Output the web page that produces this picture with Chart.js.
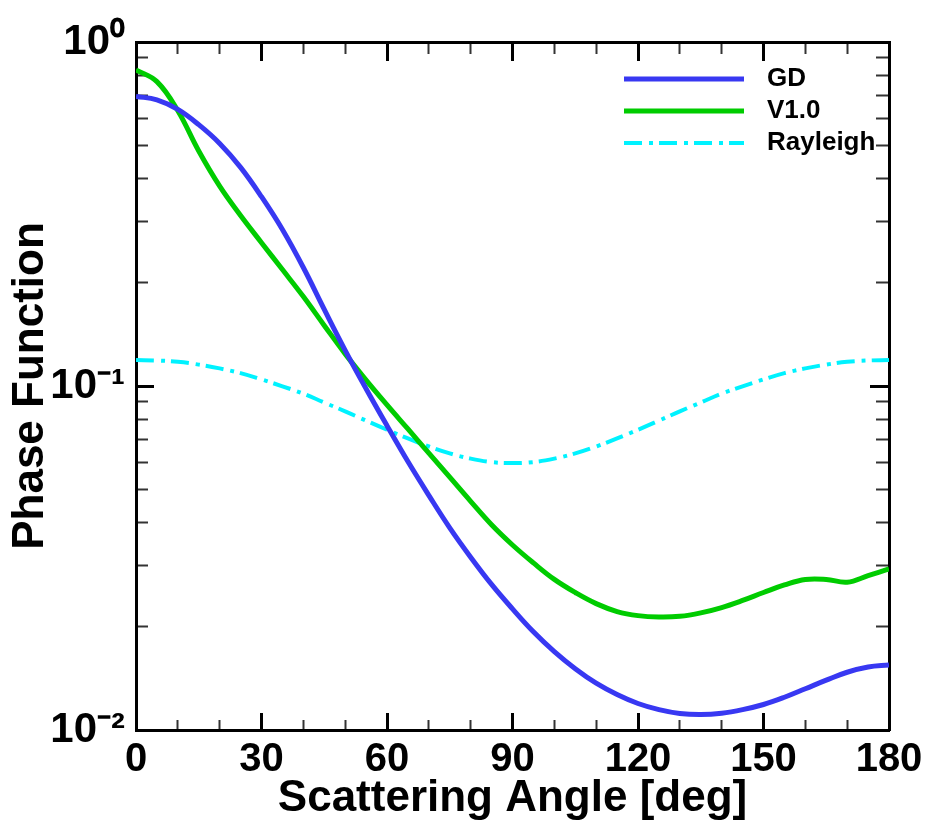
<!DOCTYPE html>
<html>
<head>
<meta charset="utf-8">
<script src="https://cdn.jsdelivr.net/npm/chart.js@4.4.1/dist/chart.umd.min.js"></script>
<style>
  html, body { margin: 0; padding: 0; background: #ffffff; }
  #wrap { width: 931px; height: 825px; position: relative; }
</style>
</head>
<body>
<div id="wrap"><canvas id="c"></canvas></div>
<script>
// ---- data ----
const angles = [0, 5, 10, 15, 20, 25, 30, 35, 40, 45, 50, 55, 60, 65, 70, 75, 80, 85, 90,
                95, 100, 105, 110, 115, 120, 125, 130, 135, 140, 145, 150, 155, 160, 165, 170, 175, 180];
const gdValues = [0.695, 0.679, 0.637, 0.575, 0.507, 0.432, 0.355, 0.285, 0.221, 0.167, 0.127, 0.0982,
                  0.0767, 0.0603, 0.0481, 0.0387, 0.0318, 0.0265, 0.0225, 0.0193, 0.0169, 0.01507,
                  0.01368, 0.01268, 0.01194, 0.01146, 0.01117, 0.01109, 0.01119, 0.01146, 0.01186,
                  0.01245, 0.01318, 0.01396, 0.01472, 0.01524, 0.01545];
const v10Values = [0.830, 0.767, 0.631, 0.482, 0.381, 0.313, 0.261, 0.218, 0.182, 0.150, 0.124, 0.104,
                   0.0881, 0.0750, 0.0638, 0.0543, 0.0462, 0.0395, 0.0345, 0.0306, 0.0274, 0.0251,
                   0.0233, 0.0221, 0.0215, 0.0213, 0.0214, 0.0219, 0.0227, 0.0238, 0.0251, 0.0264,
                   0.0274, 0.0274, 0.0269, 0.0281, 0.0294];
const rayleighValues = [0.119, 0.1186, 0.1176, 0.1154, 0.1125, 0.109, 0.1045, 0.0998, 0.095, 0.0895, 0.0844,
                        0.0793, 0.0746, 0.0704, 0.0667, 0.0637, 0.0615, 0.0601, 0.0597, 0.0601, 0.0615,
                        0.0637, 0.0667, 0.0704, 0.0746, 0.0793, 0.0844, 0.0895, 0.095, 0.0998, 0.1045,
                        0.109, 0.1125, 0.1154, 0.1176, 0.1186, 0.119];
const seriesNames = ['GD', 'V1.0', 'Rayleigh'];

// ---- ticks ----
const xMajorTicks = [0, 30, 60, 90, 120, 150, 180];
const xTickLabels = ['0', '30', '60', '90', '120', '150', '180'];
const xMinorTicks = [10, 20, 40, 50, 70, 80, 100, 110, 130, 140, 160, 170];
const yMajorTicks = [0.01, 0.1, 1];
const yTickLabels = ['10\u207B\u00B2', '10\u207B\u00B9', '10\u2070'];
const yMinorTicks = [0.02, 0.03, 0.04, 0.05, 0.06, 0.07, 0.08, 0.09,
                     0.2, 0.3, 0.4, 0.5, 0.6, 0.7, 0.8, 0.9];

const FONT = "'Liberation Sans', Arial, Helvetica, sans-serif";
Chart.defaults.font.family = FONT;
Chart.defaults.color = '#000';

function pts(vals) { return angles.map((a, i) => ({ x: a, y: vals[i] })); }

function sample(color, width, dash) {
  const c = document.createElement('canvas');
  c.width = 130; c.height = 10;
  const g = c.getContext('2d');
  g.strokeStyle = color; g.lineWidth = width; g.setLineDash(dash);
  g.beginPath(); g.moveTo(0, 5); g.lineTo(120, 5); g.stroke();
  return c;
}

const BLUE = '#3838f2', GREEN = '#00cc00', CYAN = '#00f2ff';
const DASH = [18, 7, 4, 6];

function setTicks(list) { return (s) => { s.ticks = list.slice().sort((a, b) => a - b).map(v => ({ value: v })); }; }
const xAll = xMajorTicks.concat(xMinorTicks);
const yAll = yMajorTicks.concat(yMinorTicks);
const isMajX = (c) => c.tick && xMajorTicks.includes(c.tick.value);
const isMajY = (c) => c.tick && yMajorTicks.some(v => Math.abs(v - c.tick.value) < 1e-9);

// inward tick marks: major full length, minor shortened with a dash that starts at the axis line
function tickGrid(len, minorLen, isMaj) {
  return {
    drawOnChartArea: false, tickLength: len,
    tickWidth: (c) => isMaj(c) ? 3 : 2,
    tickColor: (c) => isMaj(c) ? '#000' : '#333',
    tickBorderDash: (c) => isMaj(c) ? [] : [minorLen, 200]
  };
}

const legendPlacer = {
  id: 'legendPlacer',
  afterLayout(chart) {
    const lg = chart.legend;
    if (!lg) return;
    const w = lg.width;
    lg.left = 618; lg.top = 60;
    lg.right = lg.left + w; lg.bottom = lg.top + 300;
  }
};

new Chart(document.getElementById('c'), {
  type: 'line',
  data: {
    datasets: [
      { label: seriesNames[0], data: pts(gdValues), borderColor: BLUE, borderWidth: 5,
        pointRadius: 0, tension: 0.4, pointStyle: sample(BLUE, 5, []),
        xAxisID: 'x', yAxisID: 'y' },
      { label: seriesNames[1], data: pts(v10Values), borderColor: GREEN, borderWidth: 5,
        pointRadius: 0, tension: 0.4, pointStyle: sample(GREEN, 5, []),
        xAxisID: 'x', yAxisID: 'y' },
      { label: seriesNames[2], data: pts(rayleighValues), borderColor: CYAN, borderWidth: 4,
        borderDash: DASH, pointRadius: 0, tension: 0.4,
        pointStyle: sample(CYAN, 4, DASH), xAxisID: 'x', yAxisID: 'y' }
    ]
  },
  options: {
    responsive: true, maintainAspectRatio: false, animation: false,
    layout: { padding: { top: 42, right: 42, bottom: 0, left: 0 } },
    plugins: {
      legend: {
        position: 'chartArea', align: 'start',
        labels: { usePointStyle: true, pointStyleWidth: 130, padding: 6, color: '#000',
                  font: { size: 26, weight: 'bold', family: FONT } }
      },
      tooltip: { enabled: false }
    },
    scales: {
      x: {
        type: 'linear', position: 'bottom', min: 0, max: 180,
        afterBuildTicks: setTicks(xMajorTicks),
        afterFit: (s) => { s.height = 95; },
        ticks: { autoSkip: false, maxRotation: 0, padding: 8, color: '#000',
                 font: { size: 40, weight: 'bold', lineHeight: 1.1 },
                 callback: (v) => xTickLabels[xMajorTicks.indexOf(v)] },
        grid: { drawOnChartArea: false, drawTicks: false },
        border: { color: '#000', width: 3 },
        title: { display: true, text: 'Scattering Angle [deg]', color: '#000',
                 font: { size: 44, weight: 'bold', lineHeight: 1 }, padding: { top: 0, bottom: 4 } }
      },
      xBottomTicks: {
        type: 'linear', position: { y: 0.01 }, min: 0, max: 180,
        afterBuildTicks: setTicks(xAll),
        ticks: { display: false }, grid: tickGrid(-17, 10, isMajX), border: { display: false }
      },
      xTopTicks: {
        type: 'linear', position: { y: 1 }, min: 0, max: 180,
        afterBuildTicks: setTicks(xAll),
        ticks: { display: false }, grid: tickGrid(17, 10, isMajX), border: { color: '#000', width: 3 }
      },
      y: {
        type: 'logarithmic', position: 'left', min: 0.01, max: 1,
        afterBuildTicks: setTicks(yMajorTicks),
        afterFit: (s) => { s.width = 136; },
        ticks: { padding: 11, color: '#000', font: { size: 42, weight: 'bold', lineHeight: 1 },
                 callback: (v, i) => yTickLabels[i] },
        grid: { drawOnChartArea: false, drawTicks: false },
        border: { color: '#000', width: 3 },
        title: { display: true, text: 'Phase Function', color: '#000',
                 font: { size: 44, weight: 'bold', lineHeight: 1 }, padding: { top: 9, bottom: 0 } }
      },
      yLeftTicks: {
        type: 'logarithmic', position: { x: 0 }, min: 0.01, max: 1,
        afterBuildTicks: setTicks(yAll),
        ticks: { display: false }, grid: tickGrid(-18, 12, isMajY), border: { display: false }
      },
      yRightTicks: {
        type: 'logarithmic', position: { x: 180 }, min: 0.01, max: 1,
        afterBuildTicks: setTicks(yAll),
        ticks: { display: false }, grid: tickGrid(18, 12, isMajY), border: { color: '#000', width: 3 }
      }
    }
  },
  plugins: [legendPlacer]
});
</script>
</body>
</html>
